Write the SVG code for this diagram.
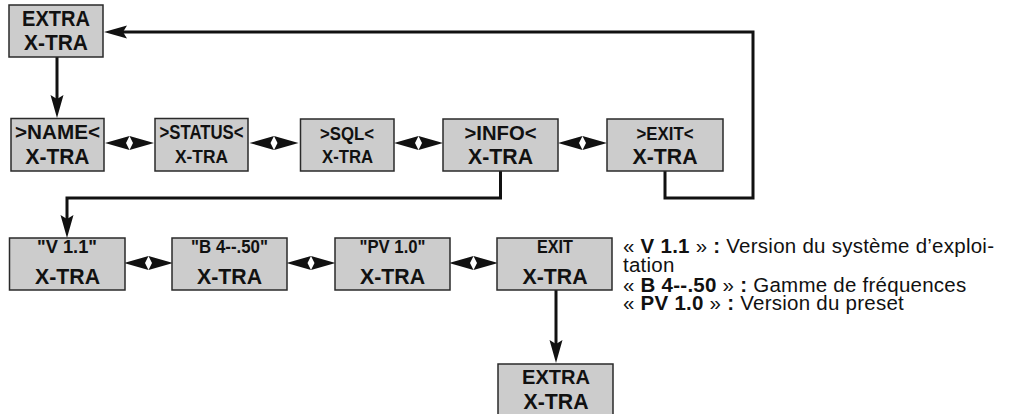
<svg xmlns="http://www.w3.org/2000/svg" xmlns:xlink="http://www.w3.org/1999/xlink" width="1016" height="414" viewBox="0 0 1016 414">
  <style>
    .box { fill: #cccccc; stroke: #2a2a2a; stroke-width: 1.5; }
    .t { font-family: "Liberation Sans", Arial, sans-serif; font-weight: bold; fill: #111; text-anchor: middle; }
    .line { fill: none; stroke: #111; stroke-width: 3; stroke-linejoin: miter; }
    .head { fill: #111; }
    .note { font-family: "Liberation Sans", Arial, sans-serif; font-size: 20.5px; letter-spacing: 0.25px; fill: #111; }
    .b { font-weight: bold; }
  </style>
  <defs>
    <marker id="arr" markerUnits="userSpaceOnUse" orient="auto" markerWidth="30" markerHeight="20" refX="0" refY="0" viewBox="-20 -10 30 20" overflow="visible">
      <path d="M8,0 L-15,-6.5 L-11,0 L-15,6.5 Z" class="head"/>
    </marker>
    <path id="dbl" class="head" d="M-24.5,0 L0,-7 L-3.5,0 L0,7 Z M24.5,0 L0,-7 L3.5,0 L0,7 Z"/>
  </defs>

  <g id="connectors">
    <path class="line" d="M57,57 V110" marker-end="url(#arr)"/>
    <path class="line" d="M500.5,171 V198 H67 V230" marker-end="url(#arr)"/>
    <path class="line" d="M665,171 V198 H753 V32 H112" marker-end="url(#arr)"/>
    <path class="line" d="M556,290 V355" marker-end="url(#arr)"/>
    <use xlink:href="#dbl" transform="translate(129.5,143)"/>
    <use xlink:href="#dbl" transform="translate(274,143)"/>
    <use xlink:href="#dbl" transform="translate(418.5,143)"/>
    <use xlink:href="#dbl" transform="translate(582.5,143)"/>
    <use xlink:href="#dbl" transform="translate(148.5,263)"/>
    <use xlink:href="#dbl" transform="translate(311,263)"/>
    <use xlink:href="#dbl" transform="translate(473.5,263)"/>
  </g>

  <g id="node-extra-top">
    <rect class="box" x="9" y="5" width="94" height="52"/>
    <text class="t" x="56" y="25.5" font-size="21.5" textLength="68" lengthAdjust="spacingAndGlyphs">EXTRA</text>
    <text class="t" x="56" y="49.5" font-size="22" textLength="64" lengthAdjust="spacingAndGlyphs">X-TRA</text>
  </g>

  <g id="node-name">
    <rect class="box" x="11" y="118.5" width="93" height="52.5"/>
    <text class="t" x="57.5" y="139" font-size="21" textLength="85" lengthAdjust="spacingAndGlyphs">&gt;NAME&lt;</text>
    <text class="t" x="57.5" y="164" font-size="22" textLength="64" lengthAdjust="spacingAndGlyphs">X-TRA</text>
  </g>

  <g id="node-status">
    <rect class="box" x="155" y="118.5" width="93" height="52.5"/>
    <text class="t" x="201.5" y="139" font-size="19.5" textLength="84" lengthAdjust="spacingAndGlyphs">&gt;STATUS&lt;</text>
    <text class="t" x="201.5" y="163" font-size="19" textLength="53" lengthAdjust="spacingAndGlyphs">X-TRA</text>
  </g>

  <g id="node-sql">
    <rect class="box" x="300.5" y="119" width="93.5" height="52"/>
    <text class="t" x="347" y="139.5" font-size="19" textLength="54" lengthAdjust="spacingAndGlyphs">&gt;SQL&lt;</text>
    <text class="t" x="347.5" y="163" font-size="18.5" textLength="51" lengthAdjust="spacingAndGlyphs">X-TRA</text>
  </g>

  <g id="node-info">
    <rect class="box" x="443" y="119" width="115" height="52"/>
    <text class="t" x="500.5" y="139.5" font-size="21" textLength="72" lengthAdjust="spacingAndGlyphs">&gt;INFO&lt;</text>
    <text class="t" x="500.5" y="163.5" font-size="21.5" textLength="65" lengthAdjust="spacingAndGlyphs">X-TRA</text>
  </g>

  <g id="node-exit">
    <rect class="box" x="607" y="119" width="116" height="52"/>
    <text class="t" x="665" y="139.5" font-size="18.5" textLength="57" lengthAdjust="spacingAndGlyphs">&gt;EXIT&lt;</text>
    <text class="t" x="665" y="163.5" font-size="21.5" textLength="65" lengthAdjust="spacingAndGlyphs">X-TRA</text>
  </g>

  <g id="node-v11">
    <rect class="box" x="9.5" y="238" width="115.5" height="52"/>
    <text class="t" x="67" y="252.5" font-size="18.5" textLength="60" lengthAdjust="spacingAndGlyphs">"V 1.1"</text>
    <text class="t" x="67.5" y="283.5" font-size="22" textLength="65" lengthAdjust="spacingAndGlyphs">X-TRA</text>
  </g>

  <g id="node-b450">
    <rect class="box" x="172" y="238" width="115" height="52"/>
    <text class="t" x="229.5" y="252.5" font-size="18.5" textLength="77" lengthAdjust="spacingAndGlyphs">"B 4--.50"</text>
    <text class="t" x="229.5" y="283.5" font-size="22" textLength="65" lengthAdjust="spacingAndGlyphs">X-TRA</text>
  </g>

  <g id="node-pv10">
    <rect class="box" x="335" y="238" width="115" height="52"/>
    <text class="t" x="392.5" y="252.5" font-size="18.5" textLength="66" lengthAdjust="spacingAndGlyphs">"PV 1.0"</text>
    <text class="t" x="392.5" y="283.5" font-size="22" textLength="65" lengthAdjust="spacingAndGlyphs">X-TRA</text>
  </g>

  <g id="node-exit2">
    <rect class="box" x="497" y="238" width="115" height="52"/>
    <text class="t" x="555" y="252.5" font-size="18" textLength="36" lengthAdjust="spacingAndGlyphs">EXIT</text>
    <text class="t" x="555" y="283.5" font-size="22" textLength="65" lengthAdjust="spacingAndGlyphs">X-TRA</text>
  </g>

  <g id="node-extra-bottom">
    <rect class="box" x="498" y="364" width="115" height="54"/>
    <text class="t" x="556" y="384" font-size="20.5" textLength="68" lengthAdjust="spacingAndGlyphs">EXTRA</text>
    <text class="t" x="556" y="408.5" font-size="22" textLength="65" lengthAdjust="spacingAndGlyphs">X-TRA</text>
  </g>

  <g id="legend">
    <text class="note" x="623" y="253">« <tspan class="b">V 1.1</tspan> » <tspan class="b">:</tspan> Version du système d’exploi-</text>
    <text class="note" x="623" y="272">tation</text>
    <text class="note" x="623" y="291.5">« <tspan class="b">B 4--.50</tspan> » <tspan class="b">:</tspan> Gamme de fréquences</text>
    <text class="note" x="623" y="310">« <tspan class="b">PV 1.0</tspan> » <tspan class="b">:</tspan> Version du preset</text>
  </g>
</svg>
